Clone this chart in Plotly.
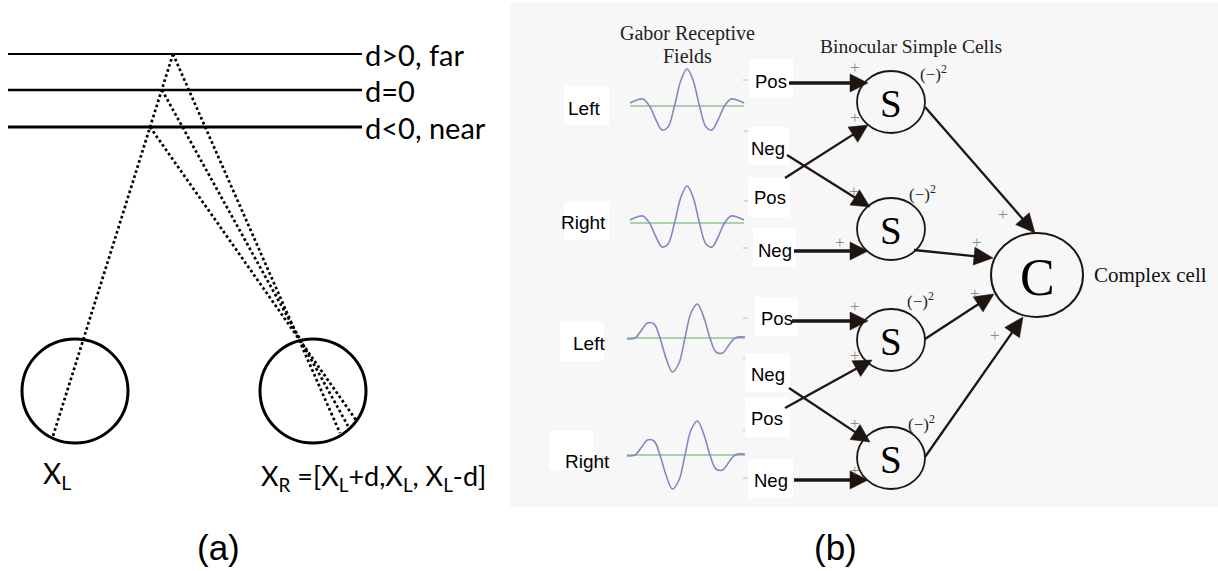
import math
import plotly.graph_objects as go

W, H = 1218, 571

# ---------------- Panel (a): geometry of binocular disparity ----------------
depth_labels = ["d>0, far", "d=0", "d<0, near"]
depth_y = [54, 90, 127]
plane_x = [8, 362]
# points on the depth planes (on the left-eye ray)
point_x = [173, 162, 150]
# retinal end points inside the right eye
right_end_x = [340, 348, 356]
right_end_y = [433, 426, 420]
left_end = [53, 436]
eye_cx = [75, 313]
eye_cy = 391

# ---------------- Panel (b): binocular energy model ----------------
eye_labels = ["Left", "Right", "Left", "Right"]
eye_label_xy = [(584, 108), (583, 222), (589, 343), (587, 461)]
eye_label_box = [(564, 86, 609, 125), (564, 202, 609, 240), (560, 322, 604, 361), (549, 431, 593, 470)]

wave_kind = ["even", "even", "odd", "odd"]
wave_base = [106, 223, 338, 455]
wave_cx = [687, 687, 685, 685]
even_t = [-57, -50, -44, -37.5, -31, -25, -19, -12.5, -6, 0, 6, 12.5, 19, 25, 31, 37.5, 44, 50, 57]
even_dy = [3, 6, 7, 0, -14, -24, -21, 0, 26, 37, 26, 0, -21, -24, -14, 0, 7, 6, 3]
odd_t = [-58, -50, -44, -37.5, -31, -25, -19, -12.5, -6, 0, 6, 12.5, 19, 25, 31, 37.5, 44, 50, 60]
odd_dy = [-1, 0, 7, 15, 14, 0, -20, -34, -25, 0, 25, 34, 20, 0, -14, -15, -7, 0, 1]

pn_labels = ["Pos", "Neg", "Pos", "Neg", "Pos", "Neg", "Pos", "Neg"]
pn_text_xy = [(771, 81), (768, 148), (770, 197), (775, 250), (777, 318), (768, 374), (767, 418), (771, 480)]
pn_box = [(749, 59, 793, 98), (748, 127, 789, 165), (748, 177, 790, 217), (753, 228, 796, 267),
          (755, 297, 798, 336), (745, 353, 790, 392), (745, 397, 790, 437), (748, 459, 793, 498)]
pn_tick_xy = [(745, 80), (746, 131), (746, 201), (745, 248), (745, 318), (745, 358), (745, 430), (745, 478)]

# input arrows: from (x, y) to tip (x, y), thick = straight connection
in_arrows = [(789, 83, 868, 83, True), (787, 155, 870, 207, False), (785, 178, 868, 125, False),
             (794, 251, 868, 251, True), (792, 321, 868, 321, True), (789, 388, 870, 442, False),
             (785, 408, 872, 360, False), (794, 480, 868, 480, True)]

s_cx = 891
s_cy = [102, 229, 340, 458]
square_xy = [(933, 73), (922, 193), (920, 300), (921, 423)]
c_center = (1037, 275)
out_arrows = [(925, 107, 1035, 233), (914, 250, 993, 258), (925, 339, 994, 294), (925, 457, 1023, 317)]
plus_xy = [(855, 67), (855, 117), (854, 191), (840, 242), (855, 306), (855, 355), (855, 423), (855, 470),
           (1003, 214), (977, 242), (975, 293), (995, 335)]

fig = go.Figure()
shapes = []
ann = []

SANS_A = "Lato"
ARIAL = "Liberation Sans"
TIMES = "Liberation Serif"
INK = "#1e1511"


def arrow(fx, fy, tx, ty, width, head_len, head_w):
    dx, dy = tx - fx, ty - fy
    n = math.hypot(dx, dy)
    ux, uy = dx / n, dy / n
    bx, by = tx - head_len * ux, ty - head_len * uy
    px, py = -uy, ux
    shapes.append(dict(type="line", x0=fx, y0=fy, x1=bx + ux * 2, y1=by + uy * 2,
                       line=dict(color=INK, width=width)))
    h = head_w / 2
    path = "M {:.2f},{:.2f} L {:.2f},{:.2f} L {:.2f},{:.2f} Z".format(
        tx, ty, bx + h * px, by + h * py, bx - h * px, by - h * py)
    shapes.append(dict(type="path", path=path, fillcolor=INK, line=dict(color=INK, width=0.5)))


# ---- Panel (a)
for y, lw in zip(depth_y, [2.0, 2.6, 2.8]):
    shapes.append(dict(type="line", x0=plane_x[0], x1=plane_x[1], y0=y, y1=y,
                       line=dict(color="black", width=lw)))
for lab, y in zip(depth_labels, depth_y):
    ann.append(dict(x=363, y=y, text=lab, showarrow=False, xanchor="left", yanchor="middle",
                    font=dict(family=SANS_A, size=29, color="black")))
for cx in eye_cx:
    shapes.append(dict(type="circle", x0=cx - 53, x1=cx + 53, y0=eye_cy - 52, y1=eye_cy + 52,
                       line=dict(color="black", width=3)))

dot = dict(color="black", width=2.7, dash="2.7px,2.6px")
fig.add_trace(go.Scatter(x=[point_x[0], left_end[0]], y=[depth_y[0], left_end[1]], mode="lines",
                         line=dot, hoverinfo="skip", showlegend=False))
for px, py, ex, ey in zip(point_x, depth_y, right_end_x, right_end_y):
    fig.add_trace(go.Scatter(x=[px, ex], y=[py, ey], mode="lines", line=dot,
                             hoverinfo="skip", showlegend=False))

ann.append(dict(x=41, y=475, text="X<sub>L</sub>", showarrow=False, xanchor="left", yanchor="middle",
                font=dict(family=SANS_A, size=28, color="black")))
ann.append(dict(x=259, y=477, text="X<sub>R</sub> =[X<sub>L</sub>+d,X<sub>L</sub>, X<sub>L</sub>-d]",
                showarrow=False, xanchor="left", yanchor="middle",
                font=dict(family=SANS_A, size=27, color="black")))
ann.append(dict(x=218, y=547, text="(a)", showarrow=False, xanchor="center", yanchor="middle",
                font=dict(family=ARIAL, size=35, color="black")))

# ---- Panel (b) background
shapes.append(dict(type="rect", x0=510, x1=1218, y0=3, y1=507, fillcolor="#f7f7f7",
                   line=dict(width=0), layer="below"))

ann.append(dict(x=687, y=33, text="Gabor Receptive", showarrow=False, xanchor="center", yanchor="middle",
                font=dict(family=TIMES, size=20, color="#222")))
ann.append(dict(x=687, y=56, text="Fields", showarrow=False, xanchor="center", yanchor="middle",
                font=dict(family=TIMES, size=20, color="#222")))
ann.append(dict(x=911, y=46, text="Binocular Simple Cells", showarrow=False, xanchor="center",
                yanchor="middle", font=dict(family=TIMES, size=19.5, color="#222")))
ann.append(dict(x=1092, y=275, text="Complex cell", showarrow=False, xanchor="left", yanchor="middle",
                font=dict(family=TIMES, size=21, color="#111")))

for lab, (tx, ty), (x0, y0, x1, y1) in zip(eye_labels, eye_label_xy, eye_label_box):
    shapes.append(dict(type="rect", x0=x0, x1=x1, y0=y0, y1=y1, fillcolor="white", line=dict(width=0)))
    ann.append(dict(x=tx, y=ty, text=lab, showarrow=False, xanchor="center", yanchor="middle",
                    font=dict(family=ARIAL, size=19, color="black")))

for kind, base, cx in zip(wave_kind, wave_base, wave_cx):
    t = even_t if kind == "even" else odd_t
    dy = even_dy if kind == "even" else odd_dy
    xs = [cx + v for v in t]
    fig.add_trace(go.Scatter(x=[xs[0], xs[-1]], y=[base, base], mode="lines",
                             line=dict(color="#93c293", width=1.6), hoverinfo="skip", showlegend=False))
    fig.add_trace(go.Scatter(x=xs, y=[base - v for v in dy], mode="lines",
                             line=dict(color="#8587c4", width=1.6, shape="spline", smoothing=1.0),
                             hoverinfo="skip", showlegend=False))

for (tx, ty) in pn_tick_xy:
    shapes.append(dict(type="line", x0=tx - 2, x1=tx + 3, y0=ty, y1=ty, line=dict(color="#bdbdbd", width=1)))

for lab, (tx, ty), (x0, y0, x1, y1) in zip(pn_labels, pn_text_xy, pn_box):
    shapes.append(dict(type="rect", x0=x0, x1=x1, y0=y0, y1=y1, fillcolor="white", line=dict(width=0)))
    ann.append(dict(x=tx, y=ty, text=lab, showarrow=False, xanchor="center", yanchor="middle",
                    font=dict(family=ARIAL, size=18.5, color="black")))

for cy in s_cy:
    shapes.append(dict(type="circle", x0=s_cx - 34, x1=s_cx + 34, y0=cy - 31, y1=cy + 31,
                       line=dict(color=INK, width=1.8)))
    ann.append(dict(x=s_cx, y=cy + 1, text="S", showarrow=False, xanchor="center", yanchor="middle",
                    font=dict(family=TIMES, size=39, color="black")))
cx, cy = c_center
shapes.append(dict(type="circle", x0=cx - 46, x1=cx + 46, y0=cy - 42, y1=cy + 42,
                   line=dict(color=INK, width=2)))
ann.append(dict(x=cx, y=cy + 2, text="C", showarrow=False, xanchor="center", yanchor="middle",
                font=dict(family=TIMES, size=52, color="black")))

for (sx, sy) in square_xy:
    ann.append(dict(x=sx, y=sy, text="(\u2212)<sup>2</sup>", showarrow=False, xanchor="center",
                    yanchor="middle", font=dict(family=TIMES, size=17, color="#222")))

for (px, py) in plus_xy:
    ann.append(dict(x=px, y=py, text="+", showarrow=False, xanchor="center", yanchor="middle",
                    font=dict(family=TIMES, size=17, color="#8a8a8a")))

for (fx, fy, tx, ty, thick) in in_arrows:
    arrow(fx, fy, tx, ty, 3.6 if thick else 2.3, 18, 18)
for (fx, fy, tx, ty) in out_arrows:
    arrow(fx, fy, tx, ty, 2.3, 19, 18)

ann.append(dict(x=835, y=547, text="(b)", showarrow=False, xanchor="center", yanchor="middle",
                font=dict(family=ARIAL, size=35, color="black")))

fig.update_layout(
    width=W, height=H, margin=dict(l=0, r=0, t=0, b=0),
    paper_bgcolor="white", plot_bgcolor="white",
    xaxis=dict(range=[0, W], visible=False, fixedrange=True),
    yaxis=dict(range=[H, 0], visible=False, fixedrange=True),
    shapes=shapes, annotations=ann, showlegend=False,
)
fig.write_html("out.html")
